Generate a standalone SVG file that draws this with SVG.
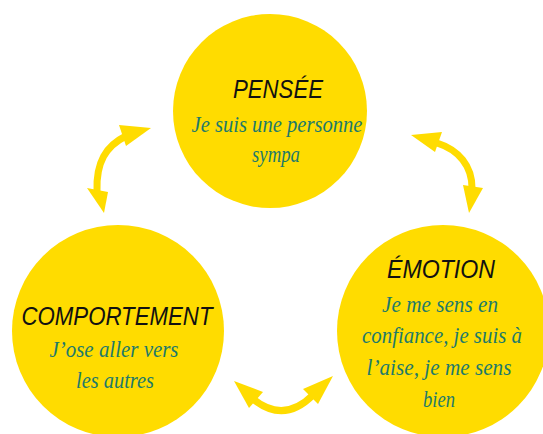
<svg xmlns="http://www.w3.org/2000/svg" width="543" height="434" viewBox="0 0 543 434">
<style>
.c{fill:#FFDC00}
.t{font-family:"Liberation Sans",Arial,sans-serif;font-style:italic;font-size:25px;fill:#111;text-anchor:middle}
.s{font-family:"Liberation Serif","Times New Roman",serif;font-style:italic;font-size:23px;fill:#1E7A6A;text-anchor:middle}
.sh{fill:none;stroke:#FFDC00;stroke-width:7;stroke-linecap:butt}
.h{fill:#FFDC00}
</style>
<rect width="543" height="434" fill="#fff"/>
<g id="connectors">
<path class="sh" d="M126,136 C106,146 96,162 97,191"/>
<polygon class="h" points="151,128 119,125 126,146"/>
<polygon class="h" points="104,213 87,188 108,192"/>
<path class="sh" d="M437,143 C459,150 472,166 472,188"/>
<polygon class="h" points="411,135 442,132 435,152"/>
<polygon class="h" points="469,213 463,185 483,188"/>
<path class="sh" d="M253,399 Q284,424 313,395"/>
<polygon class="h" points="234,381 263,392 249,408"/>
<polygon class="h" points="333,376 303,389 318,404"/>
</g>
<g id="pensee">
<circle class="c" cx="270" cy="111" r="97"/>
<text class="t" x="278" y="98" textLength="90" lengthAdjust="spacingAndGlyphs">PENSÉE</text>
<text class="s" x="277" y="132" textLength="171" lengthAdjust="spacingAndGlyphs">Je suis une personne</text>
<text class="s" x="276" y="162" textLength="48" lengthAdjust="spacingAndGlyphs">sympa</text>
</g>
<g id="comportement">
<circle class="c" cx="118" cy="331" r="106"/>
<text class="t" x="117" y="325" textLength="191" lengthAdjust="spacingAndGlyphs">COMPORTEMENT</text>
<text class="s" x="114" y="357" textLength="129" lengthAdjust="spacingAndGlyphs">J’ose aller vers</text>
<text class="s" x="115" y="388" textLength="78" lengthAdjust="spacingAndGlyphs">les autres</text>
</g>
<g id="emotion">
<circle class="c" cx="443" cy="331" r="106"/>
<text class="t" x="441" y="278" textLength="108" lengthAdjust="spacingAndGlyphs">ÉMOTION</text>
<text class="s" x="440" y="312" textLength="116" lengthAdjust="spacingAndGlyphs">Je me sens en</text>
<text class="s" x="442" y="343" textLength="160" lengthAdjust="spacingAndGlyphs">confiance, je suis à</text>
<text class="s" x="439" y="375" textLength="145" lengthAdjust="spacingAndGlyphs">l’aise, je me sens</text>
<text class="s" x="439" y="407" textLength="32" lengthAdjust="spacingAndGlyphs">bien</text>
</g>
</svg>
